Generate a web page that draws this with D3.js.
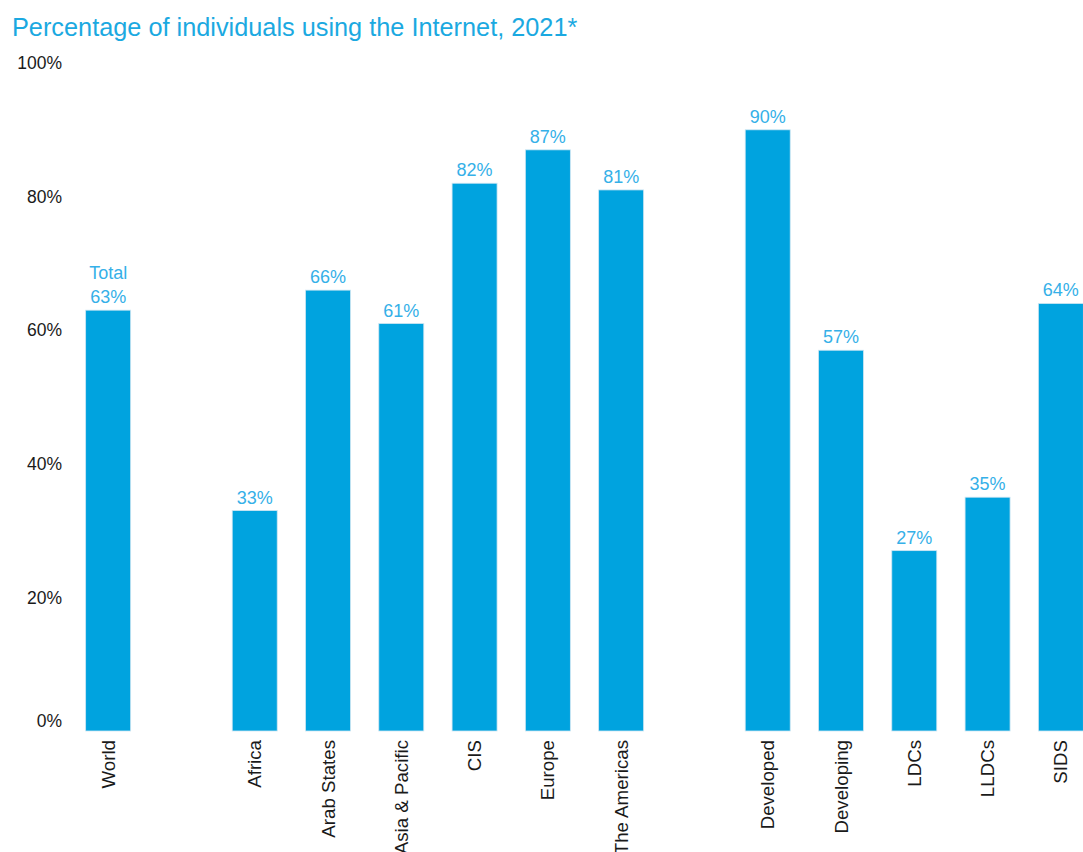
<!DOCTYPE html>
<html>
<head>
<meta charset="utf-8">
<script src="https://d3js.org/d3.v7.min.js"></script>
<style>
  body { margin: 0; background: #fff; }
  svg { font-family: "Liberation Sans", Arial, sans-serif; }
</style>
</head>
<body>
<svg id="chart" width="1083" height="852"></svg>
<script>
// slots, with blank ones for the gaps between groups
var slots = ["World", "gap1", "Africa", "Arab States", "Asia & Pacific", "CIS", "Europe", "The Americas",
  "gap2", "Developed", "Developing", "LDCs", "LLDCs", "SIDS"];
var categories = ["World", "Africa", "Arab States", "Asia & Pacific", "CIS", "Europe", "The Americas",
  "Developed", "Developing", "LDCs", "LLDCs", "SIDS"];
var values = [63, 33, 66, 61, 82, 87, 81, 90, 57, 27, 35, 64];
var yTicks = [0, 20, 40, 60, 80, 100];

var barColor = "#00a3df",
  labelColor = "#35b0e8",
  titleColor = "#1ba9e1";

var svg = d3.select("#chart");

var x = d3.scaleBand()
  .domain(slots)
  .range([71.5, 1097.5])
  .paddingInner(0.386)
  .paddingOuter(0.193);

var y = d3.scaleLinear()
  .domain([0, 100])
  .range([731, 63]);

var data = categories.map(function(c, i) {
  return { name: c, value: values[i] };
});

// title
svg.append("text")
  .attr("x", 12)
  .attr("y", 35.5)
  .attr("fill", titleColor)
  .style("font-size", "25.3px")
  .text("Percentage of individuals using the Internet, 2021*");

// y axis labels, no line
svg.append("g")
  .selectAll("text")
  .data(yTicks)
  .enter().append("text")
  .attr("x", 62)
  .attr("y", function(d) { return d === 0 ? y(d) - 10 : y(d); })
  .attr("dy", "0.35em")
  .attr("text-anchor", "end")
  .attr("fill", "#1a1a1a")
  .style("font-size", "17.5px")
  .text(function(d) { return d + "%"; });

// bars
svg.append("g")
  .selectAll("rect")
  .data(data)
  .enter().append("rect")
  .attr("x", function(d) { return x(d.name); })
  .attr("y", function(d) { return y(d.value); })
  .attr("width", x.bandwidth())
  .attr("height", function(d) { return y(0) - y(d.value); })
  .attr("fill", barColor)
  .attr("stroke", "#cfe6f2")
  .attr("stroke-width", 0.8);

// value labels
svg.append("g")
  .selectAll("text")
  .data(data)
  .enter().append("text")
  .attr("x", function(d) { return x(d.name) + x.bandwidth() / 2; })
  .attr("y", function(d) { return y(d.value) - 7; })
  .attr("text-anchor", "middle")
  .attr("fill", labelColor)
  .style("font-size", "18px")
  .text(function(d) { return d.value + "%"; });

// "Total" above the World label
svg.append("text")
  .attr("x", x("World") + x.bandwidth() / 2)
  .attr("y", y(values[0]) - 31)
  .attr("text-anchor", "middle")
  .attr("fill", labelColor)
  .style("font-size", "18px")
  .text("Total");

// rotated category labels
svg.append("g")
  .selectAll("text")
  .data(categories)
  .enter().append("text")
  .attr("transform", function(d) {
    return "translate(" + (x(d) + x.bandwidth() / 2) + ",740) rotate(-90)";
  })
  .attr("dy", "0.35em")
  .attr("text-anchor", "end")
  .attr("fill", "#1a1a1a")
  .style("font-size", "18.7px")
  .text(function(d) { return d; });
</script>
</body>
</html>
